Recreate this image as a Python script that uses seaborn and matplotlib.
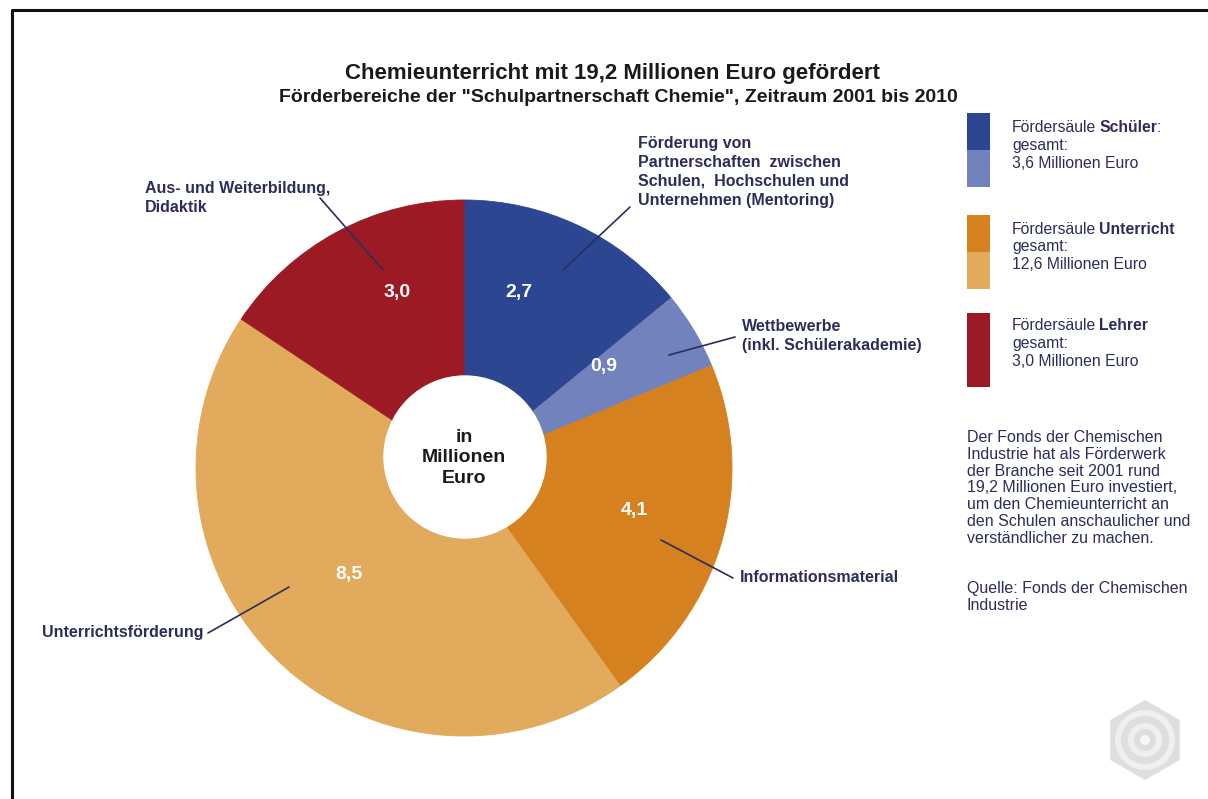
import matplotlib
matplotlib.use("Agg")
import matplotlib.pyplot as plt
import seaborn as sns
from matplotlib.patches import Circle, Rectangle, RegularPolygon

# chart values
slice_names = [
    "Förderung von\nPartnerschaften  zwischen\nSchulen,  Hochschulen und\nUnternehmen (Mentoring)",
    "Wettbewerbe\n(inkl. Schülerakademie)",
    "Informationsmaterial",
    "Unterrichtsförderung",
    "Aus- und Weiterbildung,\nDidaktik",
]
values = [2.7, 0.9, 4.1, 8.5, 3.0]
slice_colors = ["#2c4691", "#7282bd", "#d5811f", "#e1aa5c", "#9b1a23"]

pillars = ["Schüler", "Unterricht", "Lehrer"]
pillar_slices = [[0, 1], [2, 3], [4]]

title = "Chemieunterricht mit 19,2 Millionen Euro gefördert"
subtitle = 'Förderbereiche der "Schulpartnerschaft Chemie", Zeitraum 2001 bis 2010'
note = ("Der Fonds der Chemischen\nIndustrie hat als Förderwerk\nder Branche seit 2001 rund\n"
        "19,2 Millionen Euro investiert,\num den Chemieunterricht an\n"
        "den Schulen anschaulicher und\nverständlicher zu machen.")
source = "Quelle: Fonds der Chemischen\nIndustrie"

W, H = 1208, 799
NAVY = "#2b2e5c"


def de(v):
    return f"{v:.1f}".replace(".", ",")


def Y(y):
    # pixel row -> data y
    return H - y


sns.set_theme(style="white")
plt.rcParams["font.family"] = ["Liberation Sans", "DejaVu Sans"]

fig = plt.figure(figsize=(W / 100, H / 100), dpi=100)
ax = fig.add_axes([0, 0, 1, 1])

wedges, _ = ax.pie(values, colors=slice_colors, startangle=90, counterclock=False,
                   center=(464, Y(468)), radius=268, wedgeprops=dict(linewidth=0.6))
for w in wedges:
    w.set_edgecolor(w.get_facecolor())
ax.set_aspect("auto")
ax.set_xlim(0, W)
ax.set_ylim(0, H)
ax.axis("off")

# hole
ax.add_patch(Circle((465, Y(457)), 81, color="white", zorder=3))
ax.text(464, Y(458), "in\nMillionen\nEuro", ha="center", va="center", fontsize=14,
        fontweight="bold", color="#1a1a1a", linespacing=1.3, zorder=4)

# frame
ax.plot([12, 12, W], [0, Y(10), Y(10)], color="#111111", lw=2.2, solid_capstyle="butt")

ax.text(612, Y(73), title, ha="center", va="center", fontsize=16, fontweight="bold", color="#1a1a1a")
ax.text(618, Y(98), subtitle, ha="center", va="center", fontsize=14, fontweight="bold", color="#1a1a1a")

# value labels inside the slices
value_pos = [(519, 293), (604, 367), (634, 510), (349, 574), (397, 293)]
for v, (x, y) in zip(values, value_pos):
    ax.text(x, Y(y), de(v), ha="center", va="center", fontsize=14, fontweight="bold",
            color="white", zorder=4)

# category labels with leader lines
label_pos = [(638, 172), (742, 336), (740, 577), (42, 633), (145, 198)]
leaders = [((630, 207), (563, 270)), ((735, 337), (669, 355)), ((733, 578), (661, 540)),
           ((208, 633), (289, 587)), ((320, 198), (383, 270))]
for name, (x, y), (p0, p1) in zip(slice_names, label_pos, leaders):
    ax.text(x, Y(y), name, ha="left", va="center", fontsize=11.5, fontweight="bold",
            color=NAVY, linespacing=1.32)
    ax.plot([p0[0], p1[0]], [Y(p0[1]), Y(p1[1])], color=NAVY, lw=1.2, zorder=5)

# legend blocks
block_tops = [113, 215, 313]
text_rows = [128, 229, 326]
fs_leg = 11.3
fig.canvas.draw()
renderer = fig.canvas.get_renderer()
for pillar, idx, top, ty in zip(pillars, pillar_slices, block_tops, text_rows):
    h = 74 / len(idx)
    for k, i in enumerate(idx):
        ax.add_patch(Rectangle((967, Y(top + (k + 1) * h)), 23, h, color=slice_colors[i], lw=0))
    t1 = ax.text(1012, Y(ty), "Fördersäule", ha="left", va="center", fontsize=fs_leg, color=NAVY)
    bb = t1.get_window_extent(renderer)
    t2 = ax.text(bb.x1 + 3, Y(ty), pillar, ha="left", va="center", fontsize=fs_leg,
                 fontweight="bold", color=NAVY)
    if pillar == "Schüler":
        bb2 = t2.get_window_extent(renderer)
        ax.text(bb2.x1, Y(ty), ":", ha="left", va="center", fontsize=fs_leg, color=NAVY)
    total = sum(values[i] for i in idx)
    ax.text(1012, Y(ty + 10), f"gesamt:\n{de(total)} Millionen Euro", ha="left", va="top",
            fontsize=fs_leg, color=NAVY, linespacing=1.27)

ax.text(967, Y(430), note, ha="left", va="top", fontsize=11.5, color=NAVY, linespacing=1.15)
ax.text(967, Y(581), source, ha="left", va="top", fontsize=11.5, color=NAVY, linespacing=1.15)

# faint logo
ax.add_patch(RegularPolygon((1145, Y(740)), 6, radius=40, color="#dedede", lw=0))
for r, c in [(30, "#efefef"), (24, "#dedede"), (17, "#efefef"), (11, "#dedede"), (5, "#f7f7f7")]:
    ax.add_patch(Circle((1145, Y(740)), r, color=c, lw=0))

fig.savefig("out.png", dpi=100)
